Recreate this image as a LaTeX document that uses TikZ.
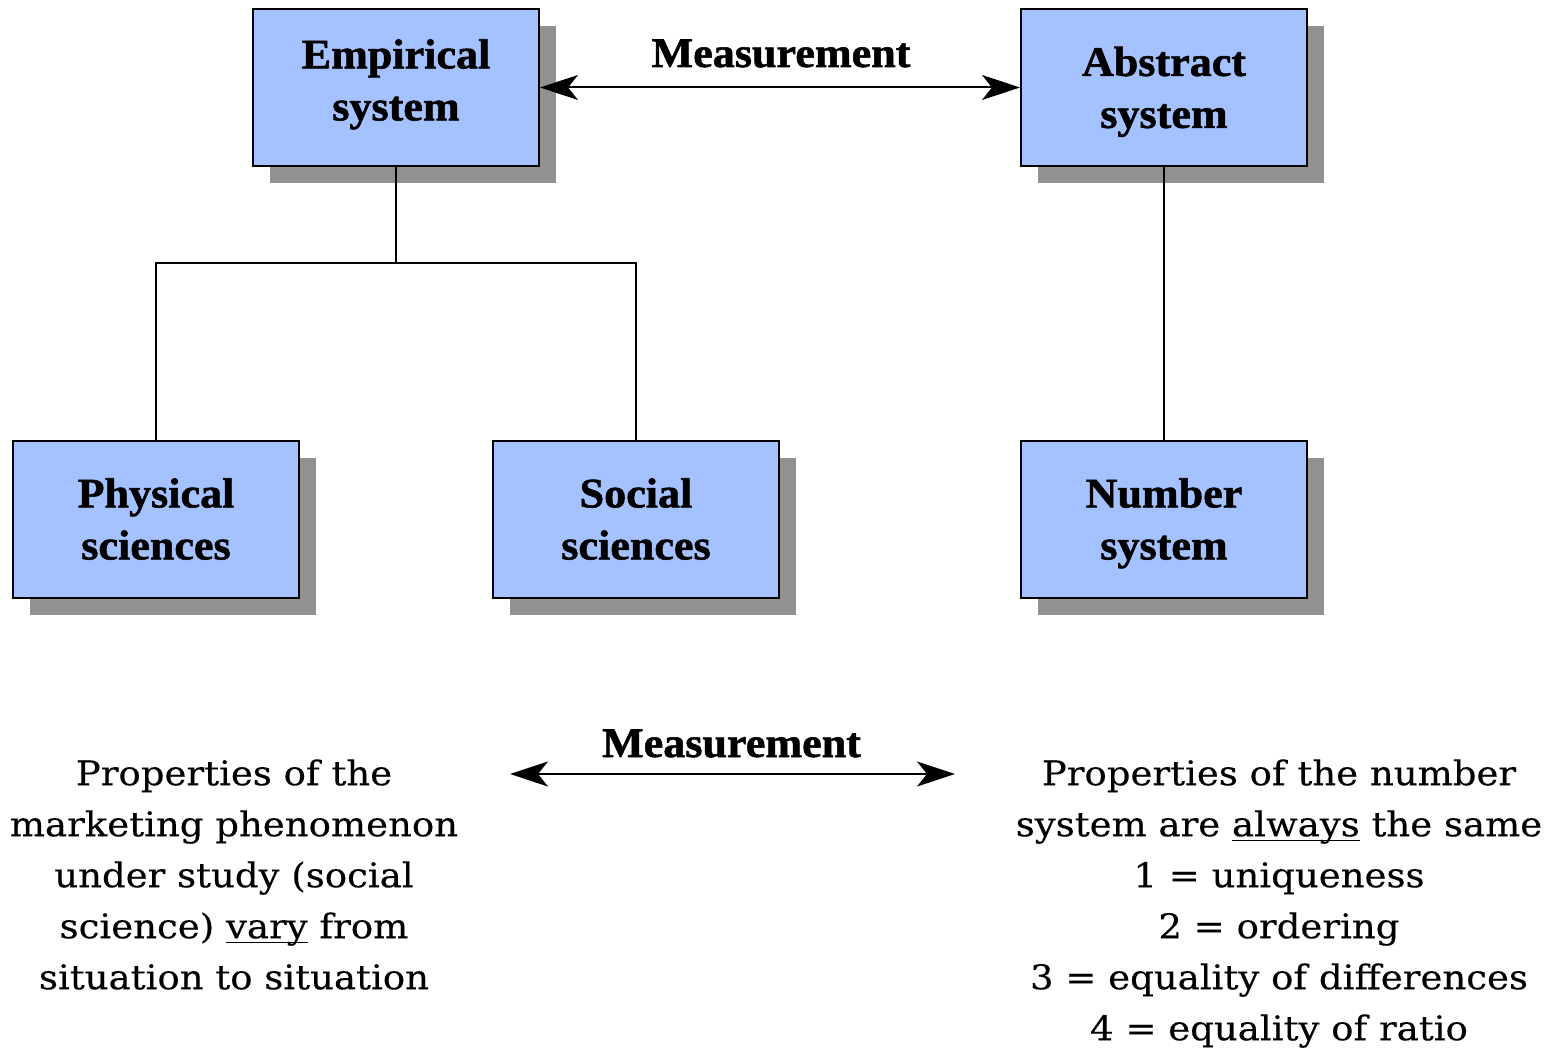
\documentclass[tikz,border=0pt]{standalone}
\usepackage{fontspec}
\setmainfont[FakeStretch=1.09,FakeBold=0.3]{DejaVu Serif}
\newfontfamily\boldf[FakeStretch=1.05,BoldFeatures={FakeBold=1.3}]{Liberation Serif}
\usetikzlibrary{arrows.meta,shadows}
\definecolor{boxblue}{RGB}{164,194,255}
\definecolor{shadowgray}{RGB}{145,145,145}
\newcommand\myul[1]{\setbox0\hbox{#1}\rlap{\rule[-2.6pt]{\wd0}{0.9pt}}\box0\relax}
\tikzset{
  sysbox/.style={draw=black, line width=1pt, fill=boxblue, minimum width=143pt, minimum height=78.5pt,
    inner sep=0pt,
    general shadow={shadowgray, fill=shadowgray, shadow xshift=8.5pt, shadow yshift=-8.5pt}},
  boxlabel/.style={inner sep=0pt, align=center, font=\boldf\bfseries\fontsize{21pt}{26pt}\selectfont},
  conn/.style={line width=1pt},
  measarrow/.style={line width=1pt, {Stealth[length=19pt,width=12.5pt,inset=5pt]}-{Stealth[length=19pt,width=12.5pt,inset=5pt]}},
  measlabel/.style={anchor=base, inner sep=0pt, font=\boldf\bfseries\fontsize{21pt}{26pt}\selectfont},
  bodytext/.style={anchor=north, inner sep=0pt, align=center, font=\fontsize{17pt}{25.5pt}\selectfont}
}
\begin{document}
\begin{tikzpicture}[x=0.5pt,y=-0.5pt]
\useasboundingbox (0,0) rectangle (1549,1054);
\node[sysbox] (emp) at (396,87.5) {};
\node[sysbox] (abs) at (1164,87.5) {};
\node[sysbox] (phys) at (156,519) {};
\node[sysbox] (soc) at (636,519) {};
\node[sysbox] (num) at (1164,519) {};
\node[boxlabel] (empl) at (396,84) {\strut Empirical\\\strut system};
\node[boxlabel] (absl) at (1164,91.5) {\strut Abstract\\\strut system};
\node[boxlabel] (physl) at (156,523) {\strut Physical\\\strut sciences};
\node[boxlabel] (socl) at (636,523) {\strut Social\\\strut sciences};
\node[boxlabel] (numl) at (1164,523) {\strut Number\\\strut system};
\coordinate (jn) at (396,263);
\draw[conn] (emp.south) -- (jn);
\draw[conn] (phys.north) |- (jn) -| (soc.north);
\draw[conn] (abs.south) -- (num.north);
\draw[measarrow] (emp.east) -- (abs.west);
\node[measlabel] (m1) at (781,67) {Measurement};
\coordinate (a2l) at (510,774);
\coordinate (a2r) at (955,774);
\draw[measarrow] (a2l) -- (a2r);
\node[measlabel] (m2) at (731.5,757) {Measurement};
\node[bodytext] (left) at (234,759) {Properties of the\\marketing phenomenon\\under study (social\\science) \myul{vary} from\\situation to situation};
\node[bodytext] (right) at (1279,759) {Properties of the number\\system are \myul{always} the same\\1 = uniqueness\\2 = ordering\\3 = equality of differences\\4 = equality of ratio};
\end{tikzpicture}
\end{document}
